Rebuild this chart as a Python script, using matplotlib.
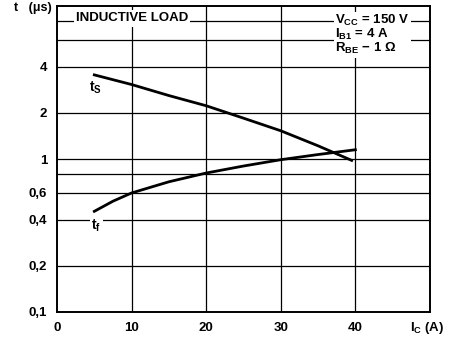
import matplotlib
matplotlib.use("Agg")
import matplotlib.pyplot as plt
from matplotlib.ticker import FixedLocator, NullLocator

plt.rcParams['font.family'] = ['Liberation Sans', 'DejaVu Sans']
plt.rcParams['mathtext.fontset'] = 'custom'
plt.rcParams['mathtext.rm'] = 'Liberation Sans:bold'
plt.rcParams['mathtext.it'] = 'Liberation Sans:bold'
plt.rcParams['mathtext.bf'] = 'Liberation Sans:bold'
plt.rcParams['mathtext.default'] = 'bf'

# storage time t_s vs collector current
ts_ic = [5, 10, 15, 20, 25, 30, 35, 39.5]
ts_t = [3.55, 3.07, 2.6, 2.23, 1.85, 1.53, 1.22, 0.98]

# fall time t_f vs collector current
tf_ic = [5, 7.5, 10, 15, 20, 25, 30, 35, 40]
tf_t = [0.455, 0.53, 0.6, 0.71, 0.81, 0.9, 0.99, 1.07, 1.15]

x_ticks = [0, 10, 20, 30, 40]
y_ticks = [0.1, 0.2, 0.4, 0.6, 1, 2, 4]
y_labels = ["0,1", "0,2", "0,4", "0,6", "1", "2", "4"]
y_grid = [0.2, 0.4, 0.6, 0.8, 1, 2, 4, 6, 8]

fig = plt.figure(figsize=(4.55, 3.38), dpi=100)
ax = fig.add_axes([0.1253, 0.077, 0.8197, 0.905])
ax.set_yscale('log')
ax.set_xlim(0, 50)
ax.set_ylim(0.1, 10)

for y in y_grid:
    ax.axhline(y, color='black', linewidth=0.9, zorder=1)
for x in x_ticks[1:]:
    ax.axvline(x, color='black', linewidth=0.9, zorder=1)

ax.plot(ts_ic, ts_t, color='black', linewidth=2.0, zorder=3)
ax.plot(tf_ic, tf_t, color='black', linewidth=2.0, zorder=3)

ax.xaxis.set_major_locator(FixedLocator(x_ticks))
ax.yaxis.set_major_locator(FixedLocator(y_ticks))
ax.yaxis.set_minor_locator(NullLocator())
ax.set_xticklabels([str(v) for v in x_ticks])
ax.set_yticklabels(y_labels)
ax.tick_params(length=0, labelsize=9.5, pad=7)
for lab in ax.get_xticklabels() + ax.get_yticklabels():
    lab.set_fontweight('bold')

for s in ax.spines.values():
    s.set_linewidth(1.4)

ax.text(4.3, 2.75, "t$_{S}$", fontsize=10, fontweight='bold', zorder=4)
ax.text(4.6, 0.345, "t$_{f}$", fontsize=10, fontweight='bold', zorder=4,
        bbox=dict(facecolor='white', edgecolor='none', pad=1))

ax.text(2.5, 8.3, "INDUCTIVE LOAD", fontsize=9.5, fontweight='bold', va='center',
        zorder=4, bbox=dict(facecolor='white', edgecolor='none', pad=1.5))
ax.text(37.3, 9.0,
        "V$_{CC}$ = 150 V\nI$_{B1}$ = 4 A\nR$_{BE}$ − 1 Ω",
        fontsize=9.5, fontweight='bold', va='top', linespacing=0.9, zorder=4,
        bbox=dict(facecolor='white', edgecolor='none', pad=1))

fig.text(0.03, 0.975, "t   (μs)", fontsize=9, fontweight='bold', va='center')
fig.text(0.9, 0.03, "I$_{C}$ (A)", fontsize=9.5, fontweight='bold', va='center')

fig.savefig("out.png", dpi=100)
